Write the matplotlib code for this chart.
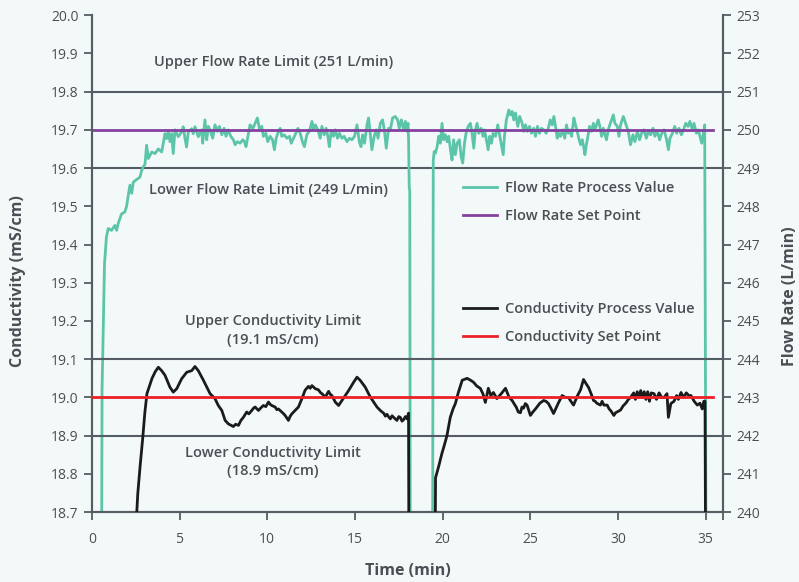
import numpy as np
import matplotlib
matplotlib.use("Agg")
import matplotlib.pyplot as plt

plt.rcParams['font.family'] = ['Open Sans', 'DejaVu Sans']

# flow rate process value (L/min)
flow_t = [0.55, 0.58, 0.72, 0.83, 0.93, 1.12, 1.31, 1.41, 1.50, 1.69, 1.88, 1.98, 2.08, 2.17, 2.27, 2.36,
          2.55, 2.74, 2.84, 2.93, 3.03, 3.12, 3.22, 3.41, 3.60, 3.79, 3.98, 4.07, 4.17, 4.26, 4.36, 4.45,
          4.55, 4.64, 4.74, 4.93, 5.12, 5.21, 5.31, 5.40, 5.50, 5.69, 5.78, 5.88, 6.07, 6.26,
          6.32, 6.45, 6.55, 6.64, 6.74, 6.89, 7.02, 7.16, 7.27, 7.41, 7.54, 7.65, 7.78, 7.92, 8.07, 8.17,
          8.30, 8.45, 8.61, 8.70, 8.79, 8.93, 9.02, 9.18, 9.31, 9.44, 9.55, 9.69, 9.78, 9.92, 10.03, 10.17,
          10.30, 10.41, 10.51, 10.64, 10.74, 10.83, 10.97, 11.12, 11.27, 11.37, 11.50, 11.63, 11.75, 11.88,
          12.01, 12.12, 12.26, 12.39, 12.45, 12.55, 12.64, 12.74, 12.89, 13.02, 13.12, 13.25, 13.36, 13.46,
          13.54, 13.65, 13.78, 13.88, 14.01, 14.12, 14.26, 14.39, 14.55, 14.69, 14.83, 14.98, 15.12, 15.25,
          15.35, 15.44, 15.55, 15.69, 15.78, 15.88, 15.97, 16.10, 16.22, 16.32, 16.45, 16.58, 16.69, 16.79,
          16.92, 17.02, 17.15, 17.30, 17.44, 17.53, 17.65, 17.78, 17.88, 17.97, 18.03, 18.06, 18.10, 18.13,
          18.16, 19.43, 19.47, 19.52, 19.59,
          19.69, 19.78, 19.87, 19.97, 20.06, 20.16, 20.26, 20.35, 20.45, 20.54, 20.63, 20.73, 20.83, 20.96,
          21.06, 21.15, 21.25, 21.34, 21.46, 21.59, 21.68, 21.78, 21.87, 21.97, 22.06, 22.20, 22.31, 22.39,
          22.50, 22.60, 22.69, 22.79, 22.88, 23.02, 23.15, 23.24, 23.34, 23.46, 23.53, 23.64, 23.78, 23.87,
          23.97, 24.06, 24.16, 24.29, 24.40, 24.54, 24.63, 24.73, 24.83, 24.96, 25.07, 25.20, 25.30, 25.41,
          25.53, 25.64, 25.77, 25.91, 26.03, 26.14, 26.25, 26.35, 26.44, 26.54, 26.63, 26.73, 26.86, 26.97,
          27.07, 27.17, 27.26, 27.36, 27.49, 27.58, 27.68, 27.77, 27.87, 27.97, 28.06, 28.12, 28.20, 28.29,
          28.38, 28.50, 28.60, 28.69, 28.78, 28.88, 28.97, 29.07, 29.17, 29.26, 29.35, 29.45, 29.54, 29.64,
          29.74, 29.83, 29.97, 30.06, 30.15, 30.31, 30.44, 30.59, 30.72, 30.86, 30.97, 31.11, 31.24, 31.35,
          31.49, 31.62, 31.74, 31.87, 32.00, 32.11, 32.25, 32.38, 32.50, 32.63, 32.76, 32.88, 32.97, 33.11,
          33.24, 33.35, 33.48, 33.62, 33.74, 33.87, 34.00, 34.11, 34.25, 34.34, 34.48, 34.59, 34.68, 34.78,
          34.88, 34.95, 35.03]
flow_v = [238.0, 243.2, 246.5, 247.2, 247.42, 247.37, 247.5, 247.37, 247.55, 247.8, 247.85, 248.0, 248.3, 248.55, 248.34, 248.63,
          248.7, 248.76, 248.94, 249.03, 249.1, 249.6, 249.25, 249.42, 249.38, 249.5, 249.42, 249.64, 249.9, 249.77, 249.95, 249.69,
          249.9, 249.38, 250.0, 249.82, 249.95, 250.08, 249.77, 249.55, 249.95, 250.03, 249.9, 250.08, 249.82, 250.0,
          249.65, 250.26, 249.74, 250.09, 250.0, 249.78, 250.13, 249.96, 250.09, 249.87, 250.04, 249.83, 250.0, 249.83, 249.74, 249.61,
          249.69, 249.65, 249.74, 249.69, 249.56, 249.91, 250.13, 250.04, 250.17, 250.31, 250.04, 250.09, 249.83, 249.91, 249.69, 249.83,
          249.74, 249.48, 249.78, 249.96, 250.04, 249.83, 249.87, 249.78, 249.83, 249.65, 249.78, 249.91, 250.04, 249.91,
          249.69, 249.56, 249.87, 249.96, 250.04, 250.22, 250.0, 250.13, 250.0, 249.78, 250.09, 249.87, 250.04, 249.83,
          249.56, 249.96, 249.83, 250.0, 249.78, 249.91, 249.78, 249.83, 249.69, 249.78, 249.74, 249.83, 250.13, 249.69,
          249.56, 249.87, 249.65, 250.13, 250.31, 249.87, 249.48, 249.83, 250.0, 249.78, 250.17, 250.26, 249.96, 249.52,
          250.04, 250.0, 250.31, 250.35, 250.26, 250.04, 250.26, 250.0, 250.22, 249.96, 250.17, 249.78, 248.5, 248.4,
          238.0, 238.0, 249.2, 249.43, 249.39,
          249.56, 249.83, 249.65, 250.17, 249.74, 249.87, 249.69, 249.83, 249.48, 249.21, 249.74, 249.35, 249.65, 249.74,
          249.3, 249.13, 249.65, 249.91, 250.09, 250.17, 249.91, 249.52, 250.0, 250.17, 249.91, 250.04, 249.83, 250.0,
          249.74, 249.48, 249.83, 249.65, 249.91, 249.83, 250.13, 249.91, 249.65, 249.35, 249.83, 250.26, 250.52, 250.39,
          250.48, 250.26, 250.44, 250.09, 250.35, 250.17, 249.96, 250.13, 249.96, 250.09, 249.91, 250.04, 249.83, 250.09,
          249.91, 250.04, 250.0, 249.91, 250.04, 250.26, 250.13, 250.35, 250.09, 249.78, 249.91, 249.83, 250.0, 249.78,
          250.13, 249.91, 250.0, 249.83, 250.31, 250.13, 249.96, 249.78, 249.61, 249.74, 249.52, 249.35, 249.61, 249.83,
          250.09, 249.96, 250.17, 250.0, 250.13, 250.26, 250.09, 249.83, 250.04, 249.87, 249.74, 250.0, 250.13, 250.26,
          250.39, 250.17, 250.09, 249.83, 250.13, 250.35, 250.17, 249.96, 249.61, 249.87, 249.69, 249.96, 249.74, 249.91,
          250.0, 249.78, 249.96, 249.87, 250.04, 249.83, 249.96, 249.74, 249.91, 250.0, 249.78, 249.48, 249.78, 249.91,
          250.09, 249.91, 250.04, 249.87, 250.0, 250.17, 250.09, 250.22, 250.0, 250.17, 249.91, 250.0, 249.83, 249.65,
          249.91, 250.13, 238.0]

# conductivity process value (mS/cm)
cond_t = [2.50, 2.62, 2.75, 2.90, 3.02, 3.14, 3.43, 3.62, 3.79, 3.98, 4.17, 4.45, 4.64, 4.84, 5.12, 5.41,
          5.69, 5.88, 6.07, 6.36, 6.74, 7.02, 7.21, 7.41, 7.60, 7.78, 8.07, 8.20, 8.36, 8.50, 8.64, 8.83,
          8.95, 9.12, 9.22, 9.31, 9.50, 9.62, 9.78, 9.92, 10.07, 10.17, 10.26, 10.45, 10.55, 10.64, 10.83,
          10.92, 11.02, 11.21, 11.30, 11.40, 11.59, 11.78, 11.98, 12.16, 12.35, 12.45, 12.55, 12.74, 12.92,
          13.05, 13.12, 13.31, 13.50, 13.60, 13.69, 13.88, 14.07, 14.26, 14.45, 14.64, 14.93, 15.12, 15.30,
          15.59, 15.88, 16.07, 16.26, 16.45, 16.55, 16.64, 16.74, 16.83, 16.93, 17.02, 17.12, 17.21, 17.30,
          17.40, 17.50, 17.59, 17.69, 17.78, 17.88, 17.97, 18.06, 18.08,
          19.58, 19.60, 19.78, 19.96, 20.10, 20.25, 20.44, 20.60, 20.73, 20.90, 21.12,
          21.40, 21.60, 21.76, 21.95, 22.15, 22.30, 22.44, 22.61, 22.75, 22.90, 23.10, 23.35, 23.59, 23.80,
          23.97, 24.10, 24.20, 24.32, 24.44, 24.53, 24.62, 24.72, 24.82, 25.01, 25.15, 25.30, 25.55, 25.76,
          25.90, 26.04, 26.18, 26.33, 26.60, 26.82, 27.00, 27.18, 27.32, 27.47, 27.70, 27.87, 28.04, 28.20,
          28.33, 28.47, 28.61, 28.70, 28.80, 29.00, 29.10, 29.20, 29.39, 29.50, 29.60, 29.77, 29.87, 29.95,
          30.15, 30.30, 30.45, 30.60, 30.72, 30.90, 31.00, 31.10, 31.20, 31.30, 31.40, 31.50, 31.60, 31.70,
          31.80, 31.90, 32.06, 32.20, 32.35, 32.50, 32.63, 32.80, 32.88, 33.02, 33.20, 33.35, 33.45, 33.60,
          33.75, 33.90, 34.05, 34.17, 34.35, 34.53, 34.68, 34.81, 34.90, 34.97, 35.00]
cond_v = [18.65, 18.75, 18.82, 18.894, 18.96, 19.01, 19.05, 19.068, 19.079, 19.07, 19.058, 19.027, 19.014, 19.023, 19.049, 19.066,
          19.07, 19.081, 19.07, 19.045, 19.01, 18.997, 18.979, 18.966, 18.94, 18.931, 18.924, 18.93, 18.927, 18.94, 18.948, 18.962,
          18.957, 18.966, 18.972, 18.975, 18.966, 18.972, 18.979, 18.976, 18.988, 18.982, 18.979, 18.975, 18.968, 18.97, 18.962,
          18.958, 18.953, 18.94, 18.95, 18.957, 18.966, 18.975, 18.997, 19.019, 19.029, 19.024, 19.031, 19.023, 19.02,
          19.012, 19.01, 19.001, 19.016, 19.008, 19.005, 18.988, 18.979, 18.992, 19.005, 19.018, 19.04, 19.053, 19.045,
          19.027, 19.001, 18.988, 18.975, 18.966, 18.962, 18.959, 18.951, 18.956, 18.949, 18.944, 18.952, 18.948, 18.944,
          18.94, 18.95, 18.948, 18.938, 18.942, 18.95, 18.944, 18.959, 18.6,
          18.6, 18.79, 18.82, 18.853, 18.875, 18.90, 18.948, 18.97, 18.984, 19.013, 19.045,
          19.05, 19.045, 19.04, 19.03, 19.024, 19.01, 18.987, 19.024, 19.005, 19.013, 18.997, 19.01, 19.024, 19.0,
          18.992, 18.982, 18.975, 18.962, 18.96, 18.975, 18.972, 18.984, 18.98, 18.953, 18.962, 18.97, 18.985, 18.992,
          18.99, 18.984, 18.972, 18.958, 18.985, 19.005, 19.0, 19.0, 18.99, 18.98, 19.005, 19.02, 19.047, 19.035,
          19.026, 19.01, 18.992, 18.99, 18.985, 18.98, 18.99, 18.98, 18.98, 18.97, 18.965, 18.953, 18.96, 18.962,
          18.967, 18.978, 18.985, 18.995, 19.0, 19.012, 18.995, 19.015, 19.0, 19.018, 19.0, 19.015, 18.995, 19.015,
          18.99, 19.012, 19.01, 18.995, 19.012, 19.0, 19.0, 19.01, 18.948, 18.984, 18.99, 19.005, 18.995, 19.013,
          19.0, 19.012, 19.005, 19.005, 18.99, 18.98, 18.985, 18.97, 18.99, 18.99, 18.6]

flow_setpoint = 250
flow_limits = [249, 251]
cond_setpoint = 19.0
cond_limits = [18.9, 19.1]
setpoint_span = [0, 35.4]

bg = '#f3f8f8'
grey = '#555c63'
txt = '#4a4f55'
teal = '#5cc5a9'
purple = '#8441a0'
red = '#ec2127'
black = '#1b1b1b'

fig = plt.figure(figsize=(7.99, 5.82), dpi=100, facecolor=bg)
ax1 = fig.add_axes([0.115, 0.12, 0.79, 0.854])
ax2 = ax1.twinx()
ax1.set_zorder(ax2.get_zorder() + 1)
ax1.patch.set_visible(False)
ax2.set_facecolor(bg)

# flow axis (right)
for lim in flow_limits:
    ax2.axhline(lim, color=grey, lw=1.5, zorder=1)
ax2.plot(flow_t, flow_v, color=teal, lw=2.0, zorder=3, label='Flow Rate Process Value')
ax2.plot(setpoint_span, [flow_setpoint] * 2, color=purple, lw=2.0, zorder=4, label='Flow Rate Set Point')

# conductivity axis (left)
for lim in cond_limits:
    ax1.axhline(lim, color=grey, lw=1.5, zorder=1)
ax1.plot(cond_t, cond_v, color=black, lw=2.0, zorder=3, label='Conductivity Process Value')
ax1.plot(setpoint_span, [cond_setpoint] * 2, color=red, lw=2.0, zorder=4, label='Conductivity Set Point')

ax1.set_xlim(0, 36)
ax1.set_ylim(18.7, 20.0)
ax2.set_ylim(240, 253)

ax1.set_yticks(np.round(np.arange(18.7, 20.01, 0.1), 1))
ax1.set_yticklabels([f'{v:.1f}' for v in np.arange(18.7, 20.01, 0.1)])
ax2.set_yticks(np.arange(240, 254, 1))
ax1.set_xticks([0, 5, 10, 15, 20, 25, 30, 35, 36])
ax1.set_xticklabels(['0', '5', '10', '15', '20', '25', '30', '35', ''])

for ax in (ax1, ax2):
    ax.spines['top'].set_visible(False)
    for s in ('left', 'right', 'bottom'):
        ax.spines[s].set_color(grey)
        ax.spines[s].set_linewidth(1.5)
    ax.tick_params(colors=grey, labelcolor=txt, width=1.3, length=6, labelsize=10)
ax1.tick_params(axis='x', pad=8)

ax1.set_xlabel('Time (min)', fontsize=11.5, fontweight='bold', color=txt, labelpad=12)
ax1.set_ylabel('Conductivity (mS/cm)', fontsize=11.5, fontweight='bold', color=txt)
ax1.yaxis.set_label_coords(-0.105, 0.465)
ax2.set_ylabel('Flow Rate (L/min)', fontsize=11.5, fontweight='bold', color=txt, rotation=90)
ax2.yaxis.set_label_coords(1.094, 0.435)

# limit annotations
kw = dict(ha='center', va='center', fontsize=10.5, color=txt, fontweight='semibold', linespacing=1.4)
ax1.text(10.34, 19.877, 'Upper Flow Rate Limit (251 L/min)', **kw)
ax1.text(10.08, 19.542, 'Lower Flow Rate Limit (249 L/min)', **kw)
ax1.text(10.34, 19.175, 'Upper Conductivity Limit\n(19.1 mS/cm)', **kw)
ax1.text(10.34, 18.831, 'Lower Conductivity Limit\n(18.9 mS/cm)', **kw)

leg_kw = dict(loc='upper left', frameon=False, fontsize=10.5, handlelength=2.3, handletextpad=0.55,
              labelspacing=0.95, borderpad=0, borderaxespad=0)
h2, l2 = ax2.get_legend_handles_labels()
leg2 = ax2.legend(h2, l2, bbox_to_anchor=(0.588, 0.666), **leg_kw)
for t in leg2.get_texts():
    t.set_color(txt)
    t.set_fontweight('semibold')
h1, l1 = ax1.get_legend_handles_labels()
leg1 = ax1.legend(h1, l1, bbox_to_anchor=(0.588, 0.4225), **leg_kw)
for t in leg1.get_texts():
    t.set_color(txt)
    t.set_fontweight('semibold')

fig.savefig('out.png', dpi=100, facecolor=bg)
